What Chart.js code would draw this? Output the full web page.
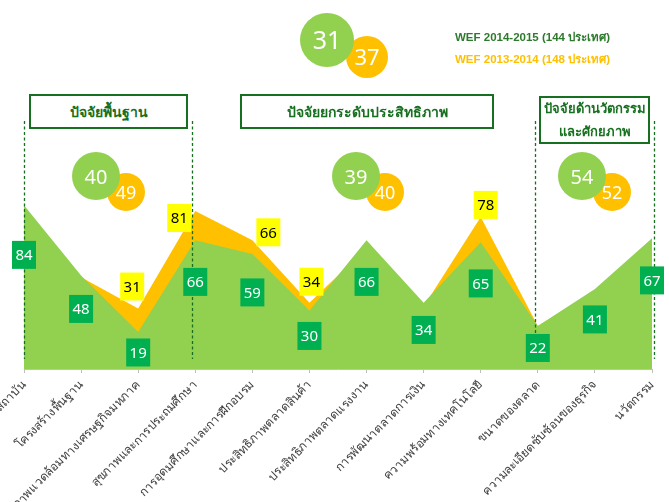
<!DOCTYPE html>
<html><head><meta charset="utf-8">
<script src="https://cdn.jsdelivr.net/npm/chart.js@4.4.0/dist/chart.umd.min.js"></script>
<style>
body{margin:0;background:#fff;}
#wrap{position:relative;width:669px;height:502px;overflow:hidden;background:#fff;}
canvas{position:absolute;left:0;top:0;}
.box{position:absolute;border:2.5px solid #17701f;box-sizing:border-box;color:#17701f;font:bold 14px Tahoma,'Noto Sans','DejaVu Sans',sans-serif;display:flex;flex-direction:column;align-items:center;justify-content:center;text-align:center;line-height:23px;background:#fff;white-space:nowrap;}
#g2{font-size:13px;}
.leg{position:absolute;font:bold 11.5px 'Liberation Sans',Tahoma,sans-serif;white-space:nowrap;}
</style></head>
<body>
<div id="wrap">
<canvas id="c" width="669" height="502"></canvas>
<div class="box" id="g0" style="left:29px;top:94px;width:159px;height:35px;"></div>
<div class="box" id="g1" style="left:240px;top:94px;width:254px;height:35px;"></div>
<div class="box" id="g2" style="left:539px;top:96px;width:111px;height:48px;"></div>
<div class="leg" id="l0" style="left:455px;top:28px;color:#2d7a2d;"></div>
<div class="leg" id="l1" style="left:455px;top:50px;color:#ffc000;"></div>
</div>
<script>
const pillars = ['สถาบัน','โครงสร้างพื้นฐาน','สภาพแวดล้อมทางเศรษฐกิจมหภาค','สุขภาพและการประถมศึกษา','การอุดมศึกษาและการฝึกอบรม','ประสิทธิภาพตลาดสินค้า','ประสิทธิภาพตลาดแรงงาน','การพัฒนาตลาดการเงิน','ความพร้อมทางเทคโนโลยี','ขนาดของตลาด','ความละเอียดซับซ้อนของธุรกิจ','นวัตกรรม'];
const rank2015 = [84,48,19,66,59,30,66,34,65,22,41,67];
const rank2014 = [78,47,31,81,66,34,62,32,78,22,40,66];
const overallRank = [31,37];
const groupRank2015 = [40,39,54];
const groupRank2014 = [49,40,52];
const groupNames = [['ปัจจัยพื้นฐาน'],['ปัจจัยยกระดับประสิทธิภาพ'],['ปัจจัยด้านวัตกรรม','และศักยภาพ']];
const legendLabels = ['WEF 2014-2015 (144 ประเทศ)','WEF 2013-2014 (148 ประเทศ)'];

groupNames.forEach((lines,i)=>{
  const el=document.getElementById('g'+i);
  lines.forEach(t=>{const s=document.createElement('span');s.textContent=t;el.appendChild(s);});
});
legendLabels.forEach((t,i)=>{document.getElementById('l'+i).textContent=t;});

const GREEN='#92D050', ORANGE='#FFC000', LBLGREEN='#00B050', LBLYEL='#FFFF00', DARK='#17701f';
const FONT="Tahoma,'Noto Sans','DejaVu Sans',sans-serif";

const overlay = {
  id:'overlay',
  afterDatasetsDraw(chart){
    const ctx=chart.ctx, x=chart.scales.x, y=chart.scales.y;
    ctx.save();
    ctx.strokeStyle=DARK; ctx.lineWidth=1.3; ctx.setLineDash([3,2.5]);
    [[0,0],[3,-3],[9,-3],[11,2]].forEach(([i,d])=>{
      const px=Math.round(x.getPixelForValue(i)+d)+0.5;
      ctx.beginPath(); ctx.moveTo(px,121); ctx.lineTo(px,359); ctx.stroke();
    });
    ctx.setLineDash([]);
    ctx.textAlign='center'; ctx.textBaseline='middle';
    ctx.font='15px '+FONT;
    rank2015.forEach((v,i)=>{
      const cx=x.getPixelForValue(i), cy=y.getPixelForValue(v*0.77)+12;
      ctx.fillStyle=LBLGREEN; ctx.fillRect(cx-12,cy-14,24,28);
      ctx.fillStyle='#fff'; ctx.fillText(String(v),cx,cy+1);
    });
    const shift=chart.options.plugins.overlay.shift;
    rank2014.forEach((v,i)=>{
      if(v<=rank2015[i]) return;
      const s=shift[i]||[0,-22];
      const cx=x.getPixelForValue(i)+s[0], cy=y.getPixelForValue(v)+s[1];
      ctx.fillStyle=LBLYEL; ctx.fillRect(cx-12,cy-14,24,28);
      ctx.fillStyle='#000'; ctx.fillText(String(v),cx,cy+1);
    });
    ctx.restore();
  },
  afterDraw(chart){
    const ctx=chart.ctx;
    const circ=(cx,cy,r,col,txt,fs)=>{
      ctx.beginPath(); ctx.arc(cx,cy,r,0,Math.PI*2); ctx.fillStyle=col; ctx.fill();
      ctx.fillStyle='#fff'; ctx.font=fs+'px '+FONT; ctx.textAlign='center'; ctx.textBaseline='middle';
      ctx.fillText(String(txt),cx,cy+2);
    };
    ctx.save();
    circ(367,57,21,ORANGE,overallRank[1],22);
    circ(327,40,27,GREEN,overallRank[0],25);
    const centers=[[96,126],[356,385],[582,612]];
    centers.forEach(([g,o],i)=>{
      circ(o,192,19,ORANGE,groupRank2014[i],18);
      circ(g,176,24,GREEN,groupRank2015[i],20);
    });
    ctx.restore();
  }
};

new Chart(document.getElementById('c'),{
  type:'line',
  data:{labels:pillars,datasets:[
    {label:legendLabels[0],data:rank2015,fill:'origin',backgroundColor:GREEN,borderColor:GREEN,borderWidth:0,pointRadius:0,tension:0},
    {label:legendLabels[1],data:rank2014,fill:'origin',backgroundColor:ORANGE,borderColor:ORANGE,borderWidth:0,pointRadius:0,tension:0}
  ]},
  options:{
    responsive:false,animation:false,
    layout:{padding:{left:24,right:17,top:174,bottom:0}},
    plugins:{legend:{display:false},tooltip:{enabled:false},
      overlay:{shift:{2:[-6,-22],3:[-16,7],4:[16,-8],5:[2,-21],8:[5,-12]}}},
    scales:{
      x:{offset:false,
        grid:{display:true,drawOnChartArea:false,drawTicks:true,tickLength:4,color:'#BFBFBF'},
        border:{color:'#BFBFBF'},
        ticks:{minRotation:45,maxRotation:45,autoSkip:false,color:'#404040',padding:5,font:{size:12,family:FONT}},
        afterFit(s){s.paddingLeft=0;s.paddingRight=0;s.height=133;}
      },
      y:{display:false,min:0,max:100}
    }
  },
  plugins:[overlay]
});
</script>
</body></html>
